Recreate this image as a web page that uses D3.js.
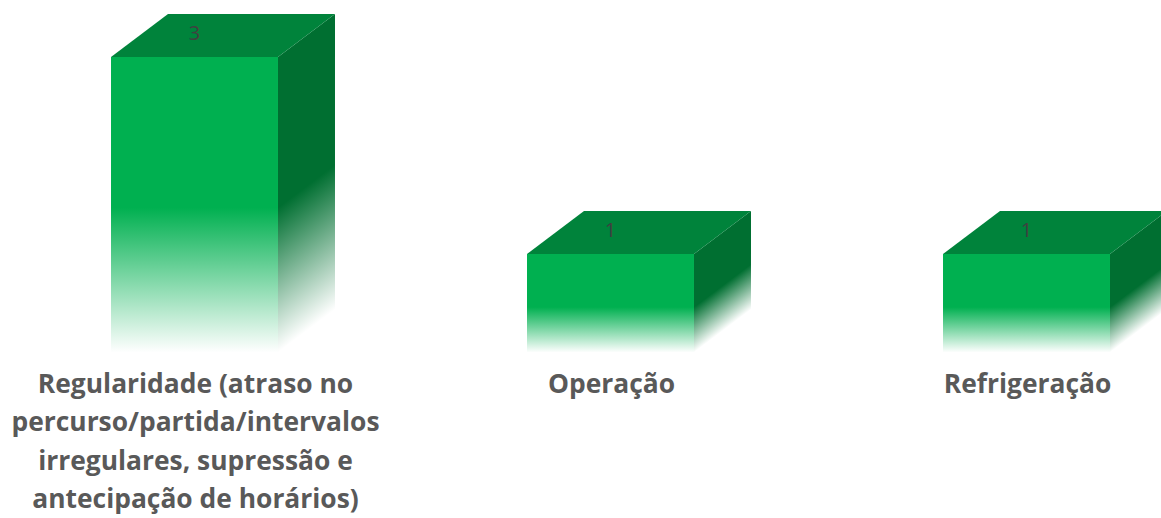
<!DOCTYPE html>
<html>
<head>
<meta charset="utf-8">
<script src="https://cdn.jsdelivr.net/npm/d3@7"></script>
<style>
  html, body { margin: 0; padding: 0; background: #fff; }
  svg { display: block; }
</style>
</head>
<body>
<svg id="chart"></svg>
<script>
const categories = ['Regularidade', 'Operação', 'Refrigeração'];
const values = [3, 1, 1];
const labelLines = [
  ['Regularidade (atraso no', 'percurso/partida/intervalos', 'irregulares, supressão e', 'antecipação de horários)'],
  ['Operação'],
  ['Refrigeração']
];

const width = 1161;
const height = 518;
const depthX = 57;
const depthY = 43;
// the fade to white starts a bit past the middle of each bar
const solidShare = [0.51, 0.54, 0.54];

const svg = d3.select('#chart').attr('width', width).attr('height', height);
const defs = svg.append('defs');

const x = d3.scaleBand()
  .domain(categories)
  .range([-13.5, 1234.5])
  .paddingInner(0.5986)
  .paddingOuter(0.2993);

const y = d3.scaleLinear().domain([0, 3]).range([352.5, 57]);

const colors = { front: '#00b050', top: '#00833b', side: '#006f31' };

function fade(id, color, x1, y1, x2, y2) {
  const g = defs.append('linearGradient')
    .attr('id', id)
    .attr('gradientUnits', 'userSpaceOnUse')
    .attr('x1', x1).attr('y1', y1)
    .attr('x2', x2).attr('y2', y2);
  g.append('stop').attr('offset', 0).attr('stop-color', color);
  g.append('stop').attr('offset', 1).attr('stop-color', color).attr('stop-opacity', 0);
}

const bars = svg.selectAll('.bar')
  .data(categories)
  .enter()
  .append('g')
  .attr('class', 'bar')
  .each(function (cat, i) {
    const g = d3.select(this);
    const left = x(cat);
    const right = left + x.bandwidth();
    const top = y(values[i]);
    const base = y(0);
    const fadeStart = top + (base - top) * solidShare[i];

    fade('front' + i, colors.front, 0, fadeStart, 0, base);

    // side gradient runs across the depth direction so the fade looks tilted
    const len = Math.hypot(depthX, depthY);
    const nx = depthY / len;
    const ny = depthX / len;
    const dist = (base - fadeStart) * ny;
    fade('side' + i, colors.side, right, fadeStart, right + nx * dist, fadeStart + ny * dist);

    g.append('path')
      .attr('d', d3.line()([[right, top], [right + depthX, top - depthY], [right + depthX, base - depthY], [right, base]]) + 'Z')
      .attr('fill', `url(#side${i})`);

    g.append('path')
      .attr('d', d3.line()([[left, top], [left + depthX, top - depthY], [right + depthX, top - depthY], [right, top]]) + 'Z')
      .attr('fill', colors.top);

    g.append('rect')
      .attr('x', left)
      .attr('y', top)
      .attr('width', x.bandwidth())
      .attr('height', base - top)
      .attr('fill', `url(#front${i})`);

    g.append('text')
      .attr('x', left + x.bandwidth() / 2)
      .attr('y', top - 17)
      .attr('text-anchor', 'middle')
      .attr('font-family', '"Open Sans", sans-serif')
      .attr('font-size', 20)
      .attr('fill', '#404040')
      .text(values[i]);

    const label = g.append('text')
      .attr('text-anchor', 'middle')
      .attr('font-family', '"Open Sans", sans-serif')
      .attr('font-weight', 700)
      .attr('font-size', 26.4)
      .attr('fill', '#595959');

    label.selectAll('tspan')
      .data(labelLines[i])
      .enter()
      .append('tspan')
      .attr('x', left + x.bandwidth() / 2 + 1)
      .attr('y', (d, j) => 393 + j * 38.4)
      .text(d => d);
  });
</script>
</body>
</html>
